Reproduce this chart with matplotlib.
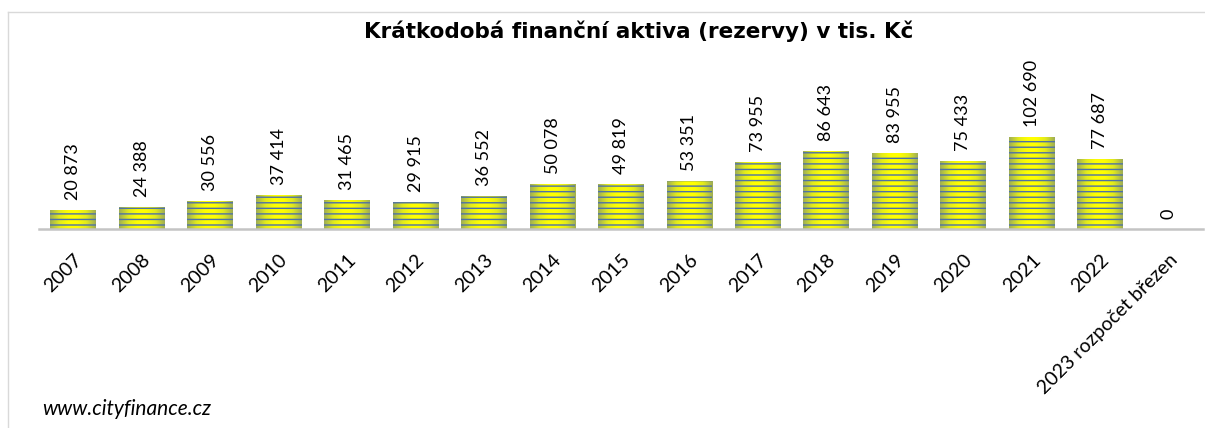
import numpy as np
import matplotlib
matplotlib.use('Agg')
import matplotlib.pyplot as plt
from matplotlib.lines import Line2D
from matplotlib.colors import LinearSegmentedColormap

categories = ['2007', '2008', '2009', '2010', '2011', '2012', '2013', '2014',
              '2015', '2016', '2017', '2018', '2019', '2020', '2021', '2022',
              '2023 rozpočet březen']
values = [20873, 24388, 30556, 37414, 31465, 29915, 36552, 50078, 49819,
          53351, 73955, 86643, 83955, 75433, 102690, 77687, 0]
title = 'Krátkodobá finanční aktiva (rezervy) v tis. Kč'
source = 'www.cityfinance.cz'

W, H = 1205, 428
plt.rcParams['font.family'] = ['Lato', 'DejaVu Sans']
plt.rcParams['hatch.linewidth'] = 1.0

fig = plt.figure(figsize=(W / 100, H / 100), dpi=100)
base_y = 229
top_y = 60
ax = fig.add_axes([39 / W, 1 - base_y / H, (1203 - 39) / W, (base_y - top_y) / H])

x = np.arange(len(categories))
ymax = 102690 * (base_y - top_y) / 92.0

bars = ax.bar(x, values, width=0.67, facecolor='none', edgecolor='#4f72a6',
              linewidth=0, hatch='---', zorder=3)

cmap = LinearSegmentedColormap.from_list(
    'yg', ['#9fae55', '#e2ea1c', '#ffff00', '#ffff00', '#e2ea1c', '#9fae55'])
grad = np.linspace(0, 1, 64).reshape(1, -1)
for p in bars.patches:
    h = p.get_height()
    if h > 0:
        ax.imshow(grad, extent=[p.get_x(), p.get_x() + p.get_width(), 0, h],
                  aspect='auto', cmap=cmap, zorder=2, interpolation='bicubic')

for xi, v in zip(x, values):
    lab = f"{v:,}".replace(',', ' ')
    ax.annotate(lab, (xi, v), xytext=(0, 7.5), textcoords='offset points',
                ha='center', va='bottom', rotation=90, fontsize=13, color='#000000')

ax.set_xlim(-0.5, len(categories) - 0.5)
ax.set_ylim(0, ymax)
ax.set_xticks(x)
ax.set_xticklabels(categories, rotation=45, ha='right', va='top',
                   rotation_mode='anchor', fontsize=14, color='#000000')
ax.tick_params(axis='x', length=0, pad=16)
ax.set_yticks([])
for s in ['left', 'right', 'top']:
    ax.spines[s].set_visible(False)
ax.spines['bottom'].set_color('#c4c4c4')
ax.spines['bottom'].set_linewidth(1.8)
ax.patch.set_visible(False)

fig.add_artist(Line2D([8 / W, 8 / W], [0, 1 - 12 / H], color='#d9d9d9', lw=1))
fig.add_artist(Line2D([8 / W, 1], [1 - 12 / H, 1 - 12 / H], color='#d9d9d9', lw=1))

fig.text(639 / W, 1 - 31 / H, title, ha='center', va='center', fontsize=15.5,
         fontweight='bold', color='#000000', family=['DejaVu Sans'])
fig.text(42 / W, 1 - 409 / H, source, ha='left', va='center', fontsize=15,
         style='italic', color='#000000')

fig.savefig('out.png', dpi=100)
